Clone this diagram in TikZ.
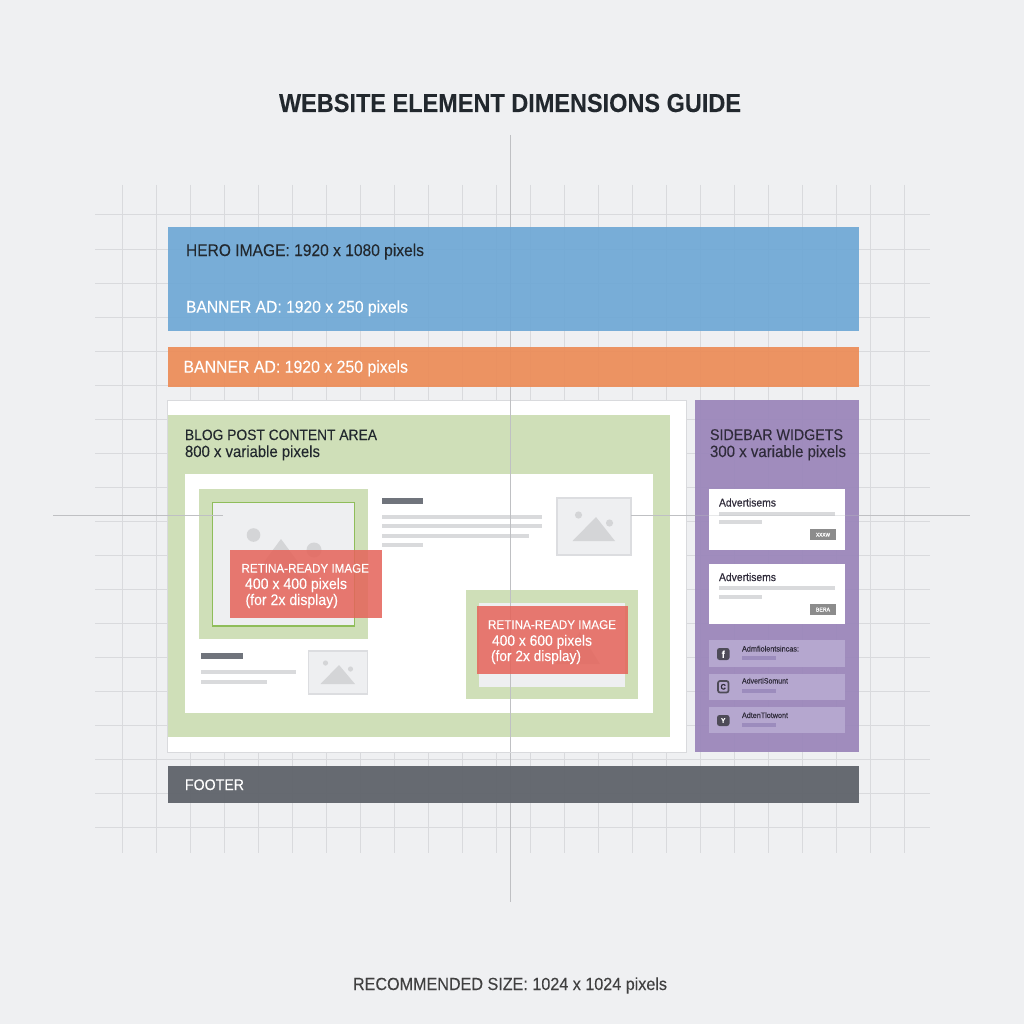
\documentclass[tikz,border=0pt]{standalone}
\usepackage{fontspec}
\usepackage{graphicx}
\setmainfont[FakeStretch=0.92,FakeBold=0.12]{Liberation Sans}
\newfontfamily\titlefont[FakeStretch=0.9,FakeBold=0.05]{Liberation Sans Bold}
\definecolor{bgc}{HTML}{EFF0F2}
\definecolor{gridc}{HTML}{D9DADD}
\definecolor{axisc}{HTML}{BFC0C3}
\definecolor{bluec}{HTML}{6CA6D5}
\definecolor{orangec}{HTML}{EC8C58}
\definecolor{greenc}{HTML}{CFDFB8}
\definecolor{framec}{HTML}{8FBD5A}
\definecolor{redc}{HTML}{E5645A}
\definecolor{purplec}{HTML}{9A85BA}
\definecolor{rowc}{HTML}{B5A7CF}
\definecolor{rowbar}{HTML}{9C8CBD}
\definecolor{footc}{HTML}{62666D}
\definecolor{barc}{HTML}{70747C}
\definecolor{linec}{HTML}{D9DADC}
\definecolor{imgc}{HTML}{EEEFF1}
\definecolor{imgb}{HTML}{DCDDE0}
\definecolor{mtnc}{HTML}{D4D5D7}
\definecolor{inkc}{HTML}{22282E}
\definecolor{sidec}{HTML}{2F2B3A}
\newcommand{\fitn}[2]{\resizebox{#1pt}{!}{\fontsize{12}{12}\selectfont #2}}
\tikzset{
 lbl/.style={anchor=base west,inner sep=0pt,outer sep=0pt},
 gridline/.style={draw=gridc,line width=1pt},
 axisline/.style={draw=axisc,line width=1pt},
 imgbox/.style={fill=imgc,draw=imgb,line width=1.2pt},
 mtn/.style={fill=mtnc,draw=none},
 txtline/.style={fill=linec,draw=none},
 headbar/.style={fill=barc,draw=none},
 redbox/.style={fill=redc,fill opacity=.86,draw=none},
 rowbox/.style={fill=rowc,draw=none},
 widget/.style={fill=white,draw=none},
 btn/.style={fill=black!45,draw=none},
 icon/.style={fill=sidec!85,draw=none,rounded corners=2.5pt},
}
\begin{document}
\begin{tikzpicture}[x=1pt,y=-1pt]
\useasboundingbox (0,0) rectangle (1024,1024);
\fill[bgc] (0,0) rectangle (1024,1024);
% grid
\foreach \k in {0,...,18} \draw[gridline] (95,215+34*\k) -- (930,215+34*\k);
\foreach \k in {0,...,23} \draw[gridline] (122+34*\k,185) -- (122+34*\k,853);
\draw[axisline] (510,135) -- (510,902);
\draw[axisline] (53,515) -- (223,515);
\draw[axisline] (629,515) -- (970,515);
% bands
\fill[bluec,fill opacity=.9] (167.5,227) rectangle (859,331);
\fill[orangec,fill opacity=.93] (167.5,347) rectangle (859,387);
% main column
\fill[white,draw=gridc,line width=1pt] (167.5,400) rectangle (686,752);
\fill[greenc] (167.5,415) rectangle (670,737);
\fill[white] (184.5,474) rectangle (653,713);
% sidebar
\fill[purplec,fill opacity=.93] (695,400) rectangle (859,752);
% first image
\fill[greenc] (199,489) rectangle (367.5,639);
\draw[fill=imgc,draw=framec,line width=1.3pt] (212.5,502.5) rectangle (354.5,626);
\fill[mtnc] (253.5,535) circle (6.8);
\fill[mtnc] (314,550) circle (7.5);
\fill[mtn] (281,539) -- (315,585) -- (247,585) -- cycle;
% text block upper
\fill[headbar] (382,498) rectangle (423,504);
\fill[txtline] (382,515) rectangle (542,519);
\fill[txtline] (382,524) rectangle (542,528);
\fill[txtline] (382,534) rectangle (529,538);
\fill[txtline] (382,543) rectangle (423,547);
% right image
\draw[imgbox] (557,498) rectangle (631,555);
\fill[mtnc] (578.5,515) circle (3.6);
\fill[mtnc] (609.5,523) circle (3.6);
\fill[mtn] (596,517) -- (615,541) -- (572.5,541) -- cycle;
% lower-left block
\fill[headbar] (201,653) rectangle (243,659);
\fill[txtline] (201,670) rectangle (296,674);
\fill[txtline] (201,680) rectangle (267,684);
\draw[imgbox] (308.5,651) rectangle (367.5,694);
\fill[mtnc] (325.5,663) circle (2.6);
\fill[mtnc] (350.5,669) circle (2.6);
\fill[mtn] (339,665) -- (355,684) -- (320.5,684) -- cycle;
% second image
\fill[greenc] (466,590) rectangle (638,699);
\fill[imgc] (479,603) rectangle (625,687);
\fill[mtn] (580,632) -- (600,664) -- (555,664) -- cycle;
% widgets
\fill[widget] (709,489) rectangle (845,549.5);
\fill[widget] (709,564) rectangle (845,624);
\fill[txtline] (719,512) rectangle (835,515.5);
\fill[txtline] (719,520) rectangle (762,524);
\fill[txtline] (719,586) rectangle (835,590);
\fill[txtline] (719,594.5) rectangle (762,598.5);
\fill[btn] (810,529) rectangle (835.5,539.5);
\fill[btn] (810,603.5) rectangle (835.5,614.5);
\fill[rowbox] (709,640) rectangle (845,667);
\fill[rowbox] (709,673.5) rectangle (845,699.5);
\fill[rowbox] (709,707) rectangle (845,733);
\fill[icon] (717,648) rectangle (729.5,660);
\draw[sidec!85,line width=1.7pt,rounded corners=2pt] (718,681) rectangle (728.5,692.5);
\fill[icon] (717,715) rectangle (729.5,726);
\fill[rowbar] (742,656) rectangle (776,660);
\fill[rowbar] (742,688.5) rectangle (776,692.5);
\fill[rowbar] (742,722.5) rectangle (776,726.5);
% footer
\fill[footc,fill opacity=.97] (167.5,766) rectangle (859,803);
% axes over the content area
\draw[axisline] (510,400) -- (510,752);
\draw[axisline] (53,515) -- (223,515);
\draw[axisline] (631,515) -- (695,515);
\draw[axisline,opacity=.35] (695,515) -- (859,515);
% red overlays
\fill[redbox] (230,550) rectangle (382,618);
\fill[redbox] (477,606) rectangle (628,674);
% texts
\node[lbl,text=inkc] (title) at (279,112) {\fitn{462}{\titlefont WEBSITE ELEMENT DIMENSIONS GUIDE}};
\node[lbl,text=inkc] (hero) at (186,256) {\fitn{238}{HERO IMAGE: 1920 x 1080 pixels}};
\node[lbl,text=white] (banner1) at (186,312.7) {\fitn{222}{BANNER AD: 1920 x 250 pixels}};
\node[lbl,text=white] (banner2) at (183.5,372.7) {\fitn{224.5}{BANNER AD: 1920 x 250 pixels}};
\node[lbl,text=inkc] (blog1) at (185,440) {\fitn{192}{BLOG POST CONTENT AREA}};
\node[lbl,text=inkc] (blog2) at (185,457) {\fitn{135}{800 x variable pixels}};
\node[lbl,text=sidec] (side1) at (710,440) {\fitn{133}{SIDEBAR WIDGETS}};
\node[lbl,text=sidec] (side2) at (710,457) {\fitn{136}{300 x variable pixels}};
\node[lbl,text=white] (ra1) at (241.5,572.7) {\fitn{127.5}{RETINA-READY IMAGE}};
\node[lbl,text=white] (ra2) at (245,589) {\fitn{102}{400 x 400 pixels}};
\node[lbl,text=white] (ra3) at (245.5,605) {\fitn{92.5}{(for 2x display)}};
\node[lbl,text=white] (rb1) at (488,629) {\fitn{128}{RETINA-READY IMAGE}};
\node[lbl,text=white] (rb2) at (492,645.7) {\fitn{100}{400 x 600 pixels}};
\node[lbl,text=white] (rb3) at (491,661) {\fitn{90}{(for 2x display)}};
\node[lbl,text=sidec] (w1) at (719,506.5) {\fitn{57}{\addfontfeatures{FakeBold=0.3}Advertisems}};
\node[lbl,text=sidec] (w2) at (719,581) {\fitn{57}{\addfontfeatures{FakeBold=0.3}Advertisems}};
\node[lbl,text=white] (b1) at (816,536.5) {\fitn{14}{\addfontfeatures{FakeBold=0.5}XXXW}};
\node[lbl,text=white] (b2) at (816,611.5) {\fitn{14}{\addfontfeatures{FakeBold=0.5}BERA}};
\node[lbl,text=sidec] (r1) at (742,651.5) {\fitn{57}{Admfiolentsincas:}};
\node[lbl,text=sidec] (r2) at (742,683.5) {\fitn{46}{AdvertiSomunt}};
\node[lbl,text=sidec] (r3) at (742,718) {\fitn{46}{AdtenTlotwont}};
\node[anchor=center,inner sep=0pt,text=white] (if) at (723.2,654.3) {\fontsize{10}{10}\selectfont\bfseries f};
\node[anchor=center,inner sep=0pt,text=sidec] (ic) at (723.2,686.8) {\fontsize{8}{8}\selectfont\bfseries C};
\node[anchor=center,inner sep=0pt,text=white] (it) at (723.2,720.5) {\fontsize{7}{7}\selectfont\bfseries Y};
\node[lbl,text=white] (foot) at (185,790) {\fitn{59}{FOOTER}};
\node[lbl,text=black!75] (rec) at (353,990) {\fitn{314}{RECOMMENDED SIZE: 1024 x 1024 pixels}};
\end{tikzpicture}
\end{document}
